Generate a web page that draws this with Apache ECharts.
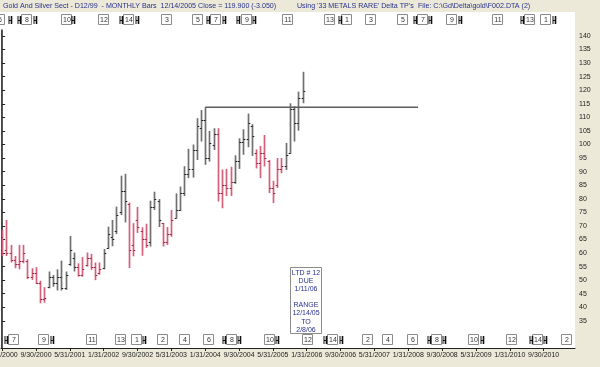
<!DOCTYPE html>
<html><head><meta charset="utf-8">
<script src="https://cdn.jsdelivr.net/npm/echarts@6/dist/echarts.min.js"></script>
<style>html,body{margin:0;padding:0;background:#ECE9D8;} #c{width:600px;height:367px;}</style>
</head><body><div id="c"></div>
<script>
// Monthly bars, Jan 2000 .. Dec 2005 (index 0 = Jan 2000)
const opens  = [66,61,60,57.5,56,57,57,51,52.5,49, 43,47.5,51,49,51,47,56,58,55,52, 55.5,58,55,52.5,54.5,62,66,68,75,83, 78,63,72,68,65,64,77,79,71,64, 67,73,76,82,89,91,98,106,109,95, 100,104,82,85,84,86,94,101,102,107, 97,93,97,94,84,85,91,92,97,113, 108,117];
const highs  = [68.5,72.2,63,58.9,63,63,57.7,54.4,54.8,49.8, 47.4,53.2,51.9,54,57.2,53.2,66.3,60.2,56.2,58.5, 60.2,59.7,56.5,56.5,61.5,69.7,72.2,77.1,88.5,89.2, 78.6,71,77,69.5,70.8,79.3,82.6,79.9,71.1,69.6, 75.9,82,84.5,92,98.4,100,109.7,112.7,113.7,105, 106,106,90.8,91,91.8,96,102.3,105.6,111.4,107.5, 98.2,99.5,103.5,94.3,86.6,95,95,100.6,115.2,114.1, 119.5,126.8];
const lows   = [58.9,58.9,56.5,54.4,54,56.2,50.4,50.1,48.6,41.5, 41.7,47,47.6,46.2,46.2,46.4,55.3,53.2,51.3,51.3, 55,53.8,50,52,54,61.5,62.5,67,74,71.3, 54.5,58.8,67.4,59,61.9,62.4,75.9,69.6,62.4,63, 66,72.7,75.5,81,87.6,87.8,94.3,101.1,92.5,93.7, 98,79,76.5,81,81,85.5,91,96.2,99,95.8, 91.2,87.6,91.9,82.1,78.4,84,89.4,90.6,96.5,101.1, 105.1,115.2];
const closes = [60,60,57.5,56,57,60,51,52.5,49,43, 43.5,51,49,51,47,52,61,55,52,54, 58,55,52,54,60,67,65,74,83,79, 61,61,69.5,65,63,77,80,72,64,67, 72,76,82,89,91,98,107,109,95,100.5, 104,82,85,84,86,94,101,102,108,103, 93,97,95,84,82,91,92,96,113,108, 117,119.9];
// 1 = red (down-trend colouring), 0 = grey
const redFlag = [1,1,1,1,1,1,1,1,1,1, 1,0,0,0,0,0,0,0,1,1, 1,1,1,1,0,0,0,0,0,0, 1,1,1,1,1,0,0,0,1,1, 1,0,0,0,0,0,0,0,0,0, 0,1,1,1,1,0,0,0,0,0, 1,1,1,1,1,1,1,0,0,0, 0,0];

// x-axis tick labels (month index from Jan 2000)
const tickPos    = [0,8,16,24,32,40,48,56,64,72,80,88,96,104,112,120,128];
const tickLabels = ['1/31/2000','9/30/2000','5/31/2001','1/31/2002','9/30/2002','5/31/2003','1/31/2004','9/30/2004','5/31/2005','1/31/2006','9/30/2006','5/31/2007','1/31/2008','9/30/2008','5/31/2009','1/31/2010','9/30/2010'];
const yTicks = [35,40,45,50,55,60,65,70,75,80,85,90,95,100,105,110,115,120,125,130,135,140];

// horizontal level line
const levelValue = 113.7, levelFrom = 48, levelTo = 98.3;

// turning point boxes (top and bottom rows) and range markers
const topTPLabels = ['6','8','10','12','14','3','5','7','9','11','13','1','3','5','7','9','11','13','1'];
const topTPPos    = [-0.5,6.0,15.3,24.1,29.9,39.0,46.3,50.6,57.9,67.6,77.5,81.5,87.2,94.8,99.5,106.4,117.2,124.8,128.6];
const topMarks    = [1.9,4.0,7.8,16.8,28.1,31.9,48.7,52.5,55.8,59.6,79.9,97.6,101.2,108.3,122.9,130.5];
const botTPLabels = ['7','9','11','13','1','2','4','6','8','10','12','14','2','4','6','8','10','12','14','2'];
const botTPPos    = [2.9,9.9,21.3,28.1,31.9,38.0,43.2,48.9,54.3,63.3,72.3,78.2,86.5,91.2,97.1,102.8,111.6,120.5,126.7,133.6];
const botMarks    = [0.9,11.8,33.5,52.5,56.0,65.0,76.3,80.1,100.9,104.5,113.5,124.9,128.4];

const noteLines = ['LTD # 12','DUE','1/11/06','','RANGE','12/14/05','TO','2/8/06'];
const titleMain = 'Gold And Silver Sect - D12/99  - MONTHLY Bars  12/14/2005 Close = 119.900 (-3.050)';
const titleUsing = "Using '33 METALS RARE' Delta TP's";
const titleFile = 'File: C:\\Gd\\Delta\\gold\\F002.DTA (2)';

const FONT = '"Liberation Sans", Arial, sans-serif';
const chart = echarts.init(document.getElementById('c'), null, {renderer:'canvas', width:600, height:367});

const bars = highs.map((h,i)=>[i, opens[i], h, lows[i], closes[i], redFlag[i]]);

function tpBoxSeries(pos, labels, rowY) {
  return {
    type:'custom', clip:false, z:5,
    data: pos.map(p=>[p, 80]),
    encode:{x:0, y:1},
    renderItem:(params, api)=>{
      const x = Math.round(api.coord([api.value(0), 80])[0]);
      const cy = rowY;
      return {type:'group', children:[
        {type:'rect', shape:{x:x-5.5, y:cy-5.5, width:10, height:10}, style:{fill:'#fff', stroke:'#8c8c8c', lineWidth:1}},
        {type:'text', x:x, y:cy+0.5, style:{text:labels[params.dataIndex], fill:'#333', font:'7px '+FONT, align:'center', verticalAlign:'middle'}}
      ]};
    }
  };
}
function markSeries(pos, rowY) {
  return {
    type:'custom', clip:false, z:5,
    data: pos.map(p=>[p, 80]),
    encode:{x:0, y:1},
    renderItem:(params, api)=>{
      const x = Math.round(api.coord([api.value(0), 80])[0]);
      const cy = rowY;
      return {type:'group', children:[
        {type:'line', shape:{x1:x-1, y1:cy-4, x2:x-1, y2:cy+4}, style:{stroke:'#111', lineWidth:1}},
        {type:'line', shape:{x1:x+1.5, y1:cy-4, x2:x+1.5, y2:cy+4}, style:{stroke:'#111', lineWidth:1.6}},
        {type:'line', shape:{x1:x-1, y1:cy+0.5, x2:x+1.5, y2:cy+0.5}, style:{stroke:'#111', lineWidth:1}}
      ]};
    }
  };
}

const noteGraphics = [{type:'rect', shape:{x:290.5, y:267.5, width:31, height:66}, style:{fill:'#fff', stroke:'#8c8c8c', lineWidth:1}, z:20}];
noteLines.forEach((t,i)=>{
  noteGraphics.push({type:'text', x:306, y:273+i*8.1, style:{text:t, fill:'#27318f', font:'7px '+FONT, align:'center', verticalAlign:'middle'}, z:21});
});

const option = {
  backgroundColor:'#ECE9D8',
  animation:false,
  grid:{left:1, right:25, top:30, bottom:19, show:false, containLabel:false, outerBoundsMode:'none'},
  xAxis:{
    type:'value', min:-0.26, max:135.4,
    axisLine:{show:true, onZero:false, lineStyle:{color:'#222', width:1}},
    axisTick:{show:true, customValues:tickPos, length:3, lineStyle:{color:'#222'}},
    axisLabel:{customValues:tickPos, formatter:v=>{const k=tickPos.indexOf(Math.round(v)); return k>=0?tickLabels[k]:'';}, fontSize:7, color:'#222', margin:4, fontFamily:FONT, hideOverlap:false},
    splitLine:{show:false}
  },
  yAxis:{
    type:'value', position:'right', min:25, max:142.2,
    axisLine:{show:true, lineStyle:{color:'#222', width:1.5}},
    axisTick:{show:true, customValues:yTicks, length:3, lineStyle:{color:'#222'}},
    axisLabel:{customValues:yTicks, fontSize:7, color:'#222', margin:4, fontFamily:FONT},
    splitLine:{show:false},
    name:'Price', nameLocation:'middle', nameRotate:-90, nameGap:20,
    nameTextStyle:{fontSize:7, color:'#222', fontFamily:FONT}
  },
  graphic:[
    {type:'rect', shape:{x:0, y:12, width:575, height:336}, style:{fill:'#fff'}, z:-10, silent:true},
    {type:'line', shape:{x1:1.5, y1:30, x2:1.5, y2:348}, style:{stroke:'#444', lineWidth:1}, z:1},
    {type:'text', x:3, y:6, style:{text:titleMain, fill:'#27318f', font:'7.1px '+FONT, verticalAlign:'middle'}},
    {type:'text', x:297, y:6, style:{text:titleUsing, fill:'#27318f', font:'7.1px '+FONT, verticalAlign:'middle'}},
    {type:'text', x:418, y:6, style:{text:titleFile, fill:'#27318f', font:'7.1px '+FONT, verticalAlign:'middle'}},
    ...noteGraphics
  ],
  series:[
    {
      type:'custom', name:'OHLC', clip:true, z:3,
      data:bars,
      encode:{x:0, y:[1,2,3,4]},
      renderItem:(params, api)=>{
        const i = api.value(0);
        const pH = api.coord([i, api.value(2)]);
        const pL = api.coord([i, api.value(3)]);
        const pO = api.coord([i, api.value(1)]);
        const pC = api.coord([i, api.value(4)]);
        const red = api.value(5) === 1;
        const col = red ? '#d4607a' : '#707070';
        const tk = red ? '#a02040' : '#202020';
        const x = Math.round(pH[0]) + 0.5;
        return {type:'group', children:[
          {type:'line', shape:{x1:x, y1:pH[1], x2:x, y2:pL[1]}, style:{stroke:col, lineWidth:1.7}},
          {type:'line', shape:{x1:x-1.8, y1:Math.round(pO[1])+0.5, x2:x, y2:Math.round(pO[1])+0.5}, style:{stroke:tk, lineWidth:1}},
          {type:'line', shape:{x1:x, y1:Math.round(pC[1])+0.5, x2:x+1.8, y2:Math.round(pC[1])+0.5}, style:{stroke:tk, lineWidth:1}}
        ]};
      }
    },
    {
      type:'line', name:'Level', symbol:'none', z:4,
      data:[[levelFrom, levelValue],[levelTo, levelValue]],
      lineStyle:{color:'#5c5c5c', width:1.5}
    },
    tpBoxSeries(topTPPos, topTPLabels, 20),
    markSeries(topMarks, 20),
    tpBoxSeries(botTPPos, botTPLabels, 340),
    markSeries(botMarks, 340)
  ]
};
chart.setOption(option);
</script>
</body></html>
